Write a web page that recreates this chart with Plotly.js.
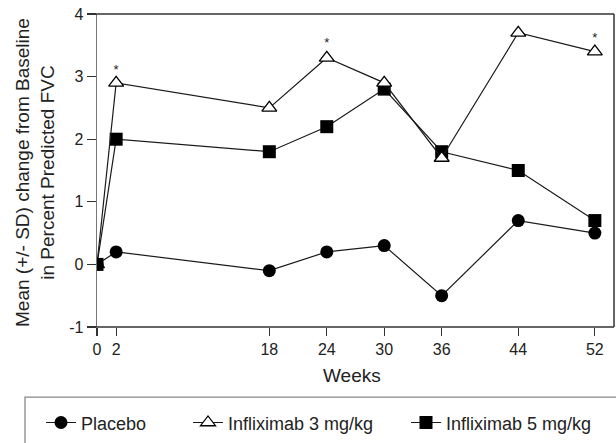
<!DOCTYPE html>
<html>
<head>
<meta charset="utf-8">
<script src="https://cdn.plot.ly/plotly-3.0.1.min.js"></script>
<style>html,body{margin:0;padding:0;background:#fff;}#chart{width:616px;height:443px;}</style>
</head>
<body>
<div id="chart"></div>
<script>
var weeks = [0, 2, 18, 24, 30, 36, 44, 52];
var placebo = [0, 0.2, -0.1, 0.2, 0.3, -0.5, 0.7, 0.5];
var inflix3 = [0, 2.9, 2.5, 3.3, 2.9, 1.7, 3.7, 3.4];
var inflix5 = [0, 2.0, 1.8, 2.2, 2.8, 1.8, 1.5, 0.7];
var starWeeks = [2, 24, 52];
var starValues = [3.1, 3.53, 3.6];
var tickWeeks = [0, 2, 18, 24, 30, 36, 44, 52];
var tickValues = [-1, 0, 1, 2, 3, 4];
var seriesNames = ['Placebo', 'Infliximab 3 mg/kg', 'Infliximab 5 mg/kg'];

var W = 517, H = 317; // plot area size in px
function px(x){ return x / W; }

var lineStyle = {color: '#1a1a1a', width: 1.2};
var font = 'Liberation Sans, Arial, sans-serif';

var traces = [
  {x: weeks, y: inflix5, name: seriesNames[2], mode: 'lines+markers', legend: 'legend3',
   line: lineStyle, marker: {symbol: 'square', size: 13, color: '#000'}},
  {x: weeks, y: inflix3, name: seriesNames[1], mode: 'lines+markers', legend: 'legend2',
   line: lineStyle, marker: {symbol: 'triangle-up', size: 13, color: '#fff', line: {color: '#000', width: 1.3}}},
  {x: weeks, y: placebo, name: seriesNames[0], mode: 'lines+markers', legend: 'legend',
   line: lineStyle, marker: {symbol: 'circle', size: 13, color: '#000'}},
  {x: starWeeks, y: starValues, mode: 'text', text: starWeeks.map(function(){return '*';}),
   textfont: {family: font, size: 13, color: '#222'}, showlegend: false, hoverinfo: 'skip'}
];

var legY = -(428 - 331) / H;
function leg(leftPx){
  return {x: px(leftPx - 97), xanchor: 'left', y: legY, yanchor: 'middle', orientation: 'h',
          bgcolor: 'rgba(0,0,0,0)', borderwidth: 0, font: {family: font, size: 18, color: '#222'}};
}

var layout = {
  width: 616, height: 443,
  margin: {l: 97, r: 2, t: 14, b: 112},
  paper_bgcolor: '#fff', plot_bgcolor: '#fff',
  showlegend: true,
  xaxis: {range: [0, 54], tickmode: 'array', tickvals: tickWeeks, ticktext: tickWeeks.map(String),
          ticks: 'outside', ticklen: 8, tickwidth: 1.2, tickcolor: '#333',
          showline: false, showgrid: false, zeroline: false,
          tickfont: {family: font, size: 16, color: '#222'}},
  yaxis: {range: [-1, 4], tickmode: 'array', tickvals: tickValues, ticktext: tickValues.map(String),
          ticks: 'outside', ticklen: 9, tickwidth: 1.2, tickcolor: '#333',
          showline: true, linecolor: '#777', linewidth: 1.3, showgrid: false, zeroline: false,
          tickfont: {family: font, size: 16, color: '#222'}},
  legend: leg(41),
  legend2: leg(188),
  legend3: leg(406),
  shapes: [
    {type: 'line', xref: 'paper', yref: 'paper', x0: px(-9), x1: 1, y0: 1, y1: 1, line: {color: '#333', width: 1.5}},
    {type: 'line', xref: 'paper', yref: 'paper', x0: px(-9), x1: 1, y0: 0, y1: 0, line: {color: '#333', width: 1.5}},
    {type: 'line', xref: 'paper', yref: 'paper', x0: 1, x1: 1, y0: 0, y1: 1, line: {color: '#333', width: 1.5}},
    {type: 'rect', xref: 'paper', yref: 'paper', x0: px(25 - 97), x1: px(640 - 97),
     y0: -(402 - 331) / H, y1: -(470 - 331) / H, line: {color: '#888', width: 1.3}, fillcolor: 'rgba(0,0,0,0)'}
  ],
  annotations: [
    {text: 'Mean (+/- SD) change from Baseline<br>in Percent Predicted FVC', textangle: -90,
     xref: 'paper', yref: 'paper', x: px(35 - 97), y: (331 - 175) / H, xanchor: 'center', yanchor: 'middle',
     showarrow: false, font: {family: font, size: 19, color: '#222'}},
    {text: 'Weeks', xref: 'paper', yref: 'paper', x: px(352 - 97), y: -(380 - 331) / H,
     xanchor: 'center', yanchor: 'middle', showarrow: false, font: {family: font, size: 19, color: '#222'}}
  ]
};

Plotly.newPlot('chart', traces, layout, {displayModeBar: false, staticPlot: true});
</script>
</body>
</html>
